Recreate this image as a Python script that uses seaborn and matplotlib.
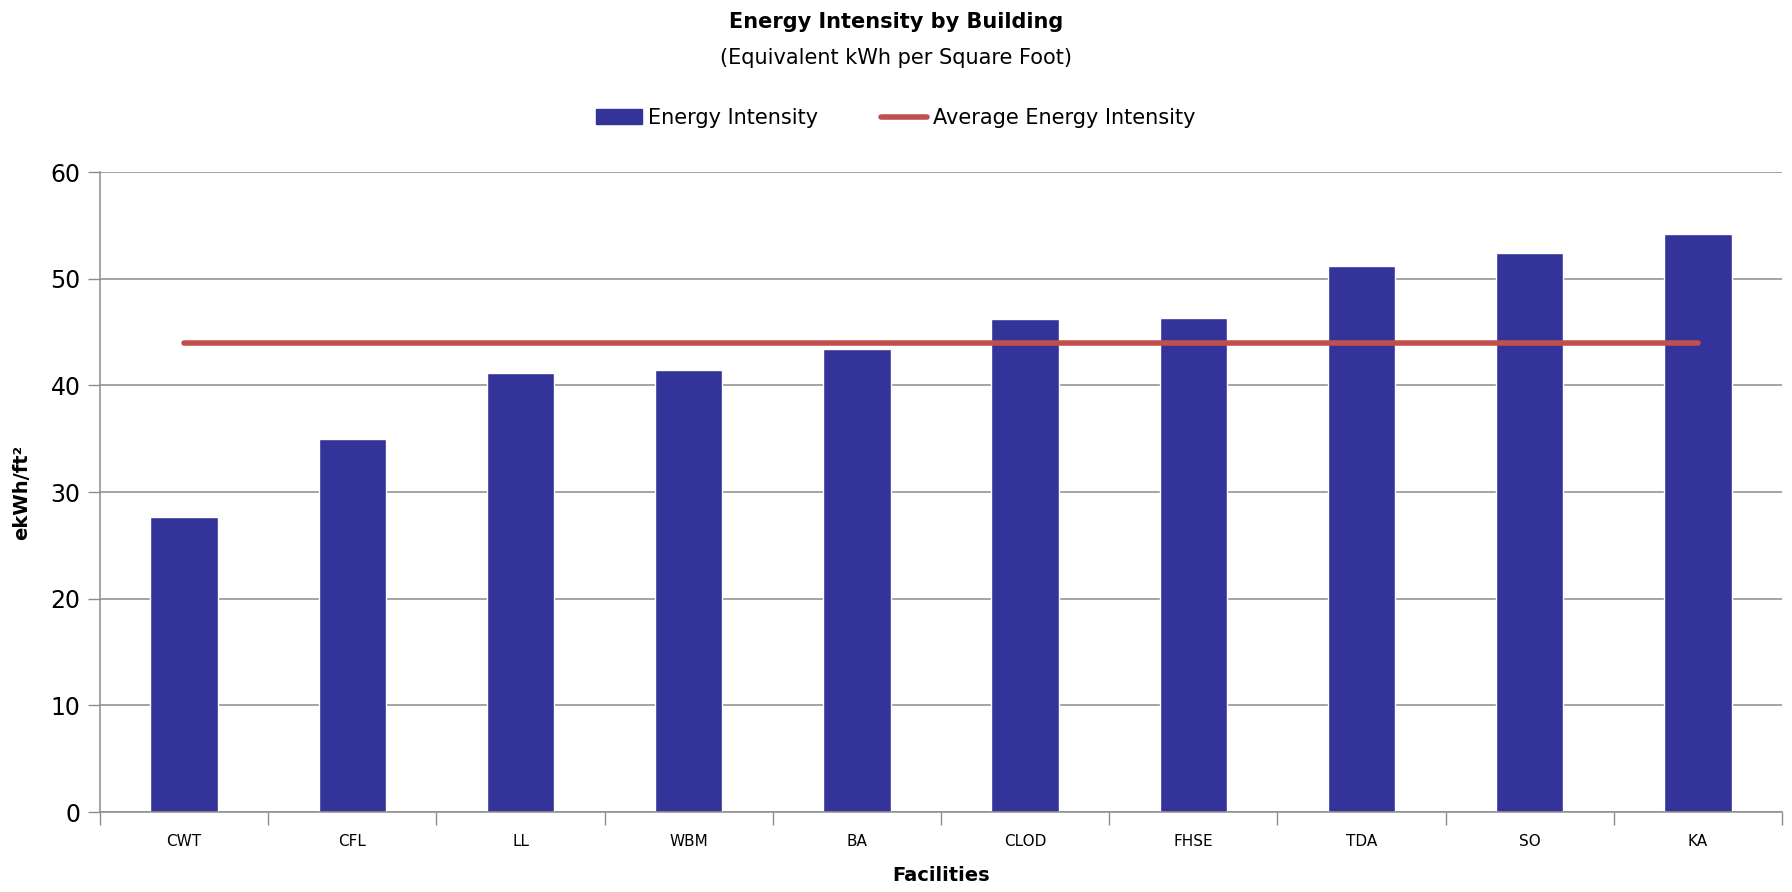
"""Energy intensity by building: bar chart with average line."""

import matplotlib.pyplot as plt
import matplotlib.lines as mlines
import matplotlib.patches as mpatches
import pandas as pd
import seaborn as sns
from matplotlib.ticker import FixedLocator

facilities = ["CWT", "CFL", "LL", "WBM", "BA", "CLOD", "FHSE", "TDA", "SO", "KA"]
energy_intensity = [27.7, 35.0, 41.2, 41.4, 43.4, 46.2, 46.3, 51.2, 52.4, 54.2]
average_intensity = [44.0] * len(facilities)
y_ticks = [0, 10, 20, 30, 40, 50, 60]

BAR_COLOR = "#333399"
LINE_COLOR = "#C0504D"
GRID_COLOR = "#8C8C8C"

sns.set_style("white")
plt.rcParams["font.family"] = ["DejaVu Sans"]
plt.rcParams["text.color"] = "black"

df = pd.DataFrame({"facility": facilities, "intensity": energy_intensity,
                   "average": average_intensity})

fig, ax = plt.subplots(figsize=(17.92, 8.92), dpi=100)
fig.subplots_adjust(left=100 / 1792, right=1782 / 1792, top=1 - 172 / 892, bottom=1 - 812 / 892)

sns.barplot(data=df, x="facility", y="intensity", color=BAR_COLOR, width=0.4,
            saturation=1, ax=ax, zorder=2)
ax.plot(range(len(facilities)), df["average"], color=LINE_COLOR, lw=4,
        solid_capstyle="round", zorder=3)

ax.set_xlim(-0.5, len(facilities) - 0.5)
ax.set_ylim(0, 60)
ax.set_yticks(y_ticks)
ax.yaxis.grid(True, color=GRID_COLOR, lw=1.1)
ax.set_axisbelow(True)

for side in ["top", "right"]:
    ax.spines[side].set_visible(False)
for side in ["left", "bottom"]:
    ax.spines[side].set_color(GRID_COLOR)
    ax.spines[side].set_linewidth(1.1)

# category separators as tick marks below the axis
ax.xaxis.set_minor_locator(FixedLocator([i - 0.5 for i in range(len(facilities) + 1)]))
ax.tick_params(axis="x", which="major", bottom=True, length=0, labelsize=11, pad=16,
               labelcolor="black")
ax.tick_params(axis="x", which="minor", bottom=True, length=9, color=GRID_COLOR, width=1,
               direction="out")
ax.tick_params(axis="y", left=True, length=9, color=GRID_COLOR, width=1, direction="out",
               labelsize=17, labelcolor="black", pad=5)

ax.set_xlabel("Facilities", fontsize=14, fontweight="bold", labelpad=12, color="black")
ax.set_ylabel("ekWh/ft²", fontsize=14, fontweight="bold", labelpad=14, color="black")

fig.text(0.5, 1 - 22 / 892, "Energy Intensity by Building", ha="center", va="center",
         fontsize=15, fontweight="bold")
fig.text(0.5, 1 - 58 / 892, "(Equivalent kWh per Square Foot)", ha="center", va="center",
         fontsize=15)

handles = [mpatches.Patch(color=BAR_COLOR, label="Energy Intensity"),
           mlines.Line2D([], [], color=LINE_COLOR, lw=4, label="Average Energy Intensity")]
fig.legend(handles=handles, loc="center", bbox_to_anchor=(0.5, 1 - 118 / 892), ncol=2,
           frameon=False, fontsize=15, handlelength=2.2, handletextpad=0.3, columnspacing=3)

fig.savefig("out.png", dpi=100)
plt.close(fig)
